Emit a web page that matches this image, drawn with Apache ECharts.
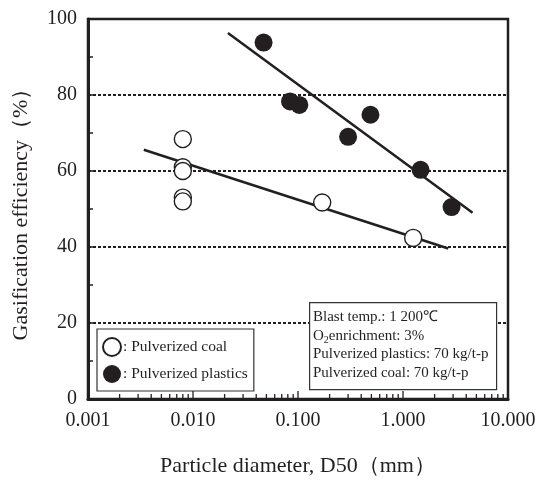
<!DOCTYPE html>
<html>
<head>
<meta charset="utf-8">
<script src="https://cdn.jsdelivr.net/npm/echarts@6/dist/echarts.min.js"></script>
<style>
  html, body { margin: 0; padding: 0; background: #fff; }
  #main { width: 539px; height: 482px; }
</style>
</head>
<body>
<div id="main"></div>
<script>
// data
const coalPoints = [
  [0.008, 68.4], [0.008, 61], [0.008, 60], [0.008, 53], [0.008, 52],
  [0.17, 51.7], [1.25, 42.4]
];
const plasticPoints = [
  [0.047, 93.8], [0.084, 78.3], [0.103, 77.4], [0.30, 69],
  [0.49, 74.8], [1.47, 60.3], [2.9, 50.5]
];
const coalFit = [[0.0034, 65.6], [2.7, 39.6]];
const plasticFit = [[0.0215, 96.3], [4.6, 49]];
const seriesNames = [': Pulverized coal', ': Pulverized plastics'];
const infoLines = [
  'Blast temp.: 1 200℃',
  'O{sub|2}enrichment: 3%',
  'Pulverized plastics: 70 kg/t-p',
  'Pulverized coal: 70 kg/t-p'
];

// log ticks: 2..9 in every decade are short, decade marks are longer
const xTickValues = [];
[0.001, 0.01, 0.1, 1].forEach(function (d) {
  for (let k = 1; k <= 9; k++) xTickValues.push([d * k, 0, k === 1 ? 8 : 5]);
});

const font = '"Liberation Serif", "Times New Roman", serif';
const ink = '#231f20';

const chart = echarts.init(document.getElementById('main'));

const option = {
  backgroundColor: '#fff',
  textStyle: { fontFamily: font, color: ink },
  grid: {
    left: 88, right: 31, top: 19, bottom: 79,
    show: true, borderColor: ink, borderWidth: 2.5, backgroundColor: 'transparent'
  },
  xAxis: {
    type: 'log',
    logBase: 10,
    min: 0.001,
    max: 10,
    name: 'Particle diameter, D50（mm）',
    nameLocation: 'middle',
    nameGap: 56,
    nameTextStyle: { fontFamily: font, fontSize: 22, color: ink },
    axisLine: { lineStyle: { color: ink, width: 3 } },
    axisTick: { show: false },
    splitLine: { show: false },
    axisLabel: {
      fontFamily: font, fontSize: 20, color: ink, margin: 12,
      formatter: function (v) { return v.toFixed(3); }
    }
  },
  yAxis: {
    type: 'value',
    min: 0,
    max: 100,
    interval: 20,
    name: 'Gasification efficiency（%）',
    nameLocation: 'middle',
    nameGap: 56,
    nameTextStyle: { fontFamily: font, fontSize: 22, color: ink },
    axisLine: { lineStyle: { color: ink, width: 3 } },
    axisTick: { show: true, inside: true, length: 5, lineStyle: { color: ink, width: 1.5 } },
    minorTick: { show: true, splitNumber: 2, length: 5, lineStyle: { color: ink, width: 1.5 } },
    splitLine: { show: true, lineStyle: { color: ink, width: 2.2, type: [3, 2] } },
    axisLabel: { fontFamily: font, fontSize: 20, color: ink, margin: 11 }
  },
  legend: {
    orient: 'vertical',
    left: 97,
    top: 329,
    data: [
      { name: seriesNames[0], icon: 'circle' },
      { name: seriesNames[1], icon: 'circle' }
    ],
    itemWidth: 18,
    itemHeight: 18,
    itemGap: 8,
    padding: [8, 6, 8, 5],
    backgroundColor: '#fff',
    borderColor: '#333',
    borderWidth: 1.2,
    borderRadius: 0,
    textStyle: { fontFamily: font, fontSize: 15.5, color: ink, padding: [0, 0, 0, -3] }
  },
  series: [
    {
      name: 'coal fit',
      type: 'line',
      data: coalFit,
      symbol: 'none',
      lineStyle: { color: ink, width: 2.5 },
      z: 3
    },
    {
      name: 'plastic fit',
      type: 'line',
      data: plasticFit,
      symbol: 'none',
      lineStyle: { color: ink, width: 2.5 },
      z: 3
    },
    {
      name: seriesNames[0],
      type: 'scatter',
      data: coalPoints,
      symbol: 'circle',
      symbolSize: 17,
      itemStyle: { color: '#fff', borderColor: ink, borderWidth: 1.4, opacity: 1 },
      z: 5
    },
    {
      name: seriesNames[1],
      type: 'scatter',
      data: plasticPoints,
      symbol: 'circle',
      symbolSize: 18,
      itemStyle: { color: ink, opacity: 1 },
      z: 5
    },
    {
      name: 'x ticks',
      type: 'scatter',
      data: xTickValues,
      silent: true,
      clip: false,
      symbol: 'rect',
      symbolSize: function (v) { return [1.3, v[2]]; },
      symbolOffset: [0, '-50%'],
      itemStyle: { color: ink, opacity: 1 },
      z: 4
    }
  ],
  graphic: [
    {
      type: 'rect',
      left: 309,
      top: 302,
      shape: { width: 187, height: 87 },
      style: { fill: '#fff', stroke: '#333', lineWidth: 1.2 },
      z: 10
    },
    {
      type: 'text',
      left: 313,
      top: 308,
      z: 11,
      style: {
        text: infoLines.join('\n'),
        fontFamily: font,
        fontSize: 15,
        lineHeight: 18.5,
        fill: ink,
        rich: {
          sub: { fontFamily: font, fontSize: 10, padding: [9, 0, 0, 0], lineHeight: 18.5 }
        }
      }
    }
  ]
};

chart.setOption(option);
</script>
</body>
</html>
